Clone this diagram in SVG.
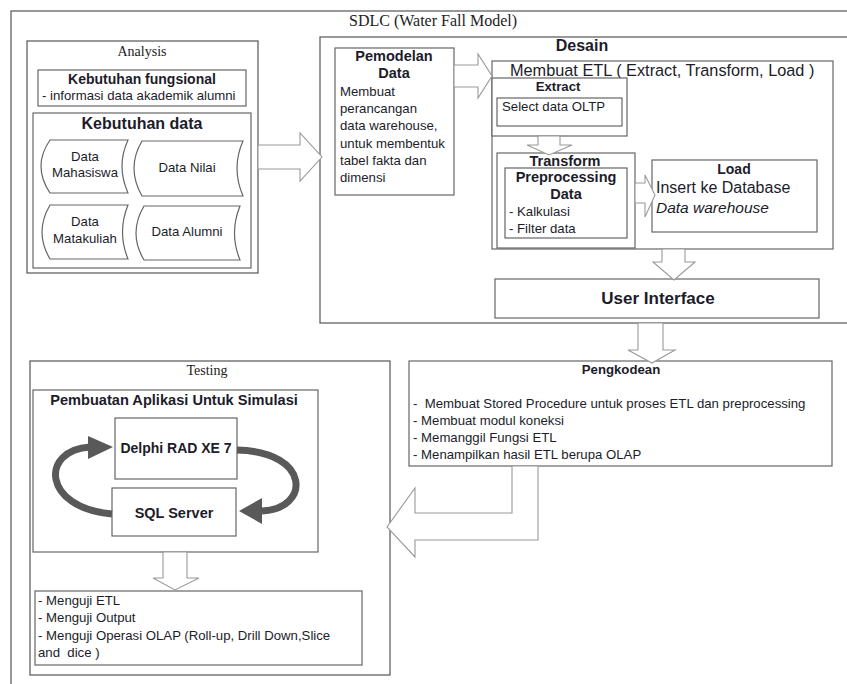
<svg xmlns="http://www.w3.org/2000/svg" width="847" height="684" viewBox="0 0 847 684">
  <style>
    .frame { fill: none; stroke: #555; stroke-width: 1.2; }
    .box { fill: #fff; stroke: #666; stroke-width: 1.2; }
    .blk { fill: #fff; stroke: #9a9a9a; stroke-width: 1.1; stroke-linejoin: miter; }
    .loop { fill: none; stroke: #595959; stroke-width: 7; }
    .head { fill: #595959; }
    .serif { font-family: "Liberation Serif", "Times New Roman", serif; fill: #222; }
    .sans { font-family: "Liberation Sans", Arial, sans-serif; fill: #1c1c2a; }
    .b { font-weight: bold; }
    .mid { text-anchor: middle; }
    .t { font-size: 13.2px; }
  </style>

  <rect width="847" height="684" fill="#fff"/>

  <!-- outer SDLC frame (runs past the right and bottom edges) -->
  <g id="sdlc">
    <rect class="frame" x="11" y="11" width="860" height="700"/>
    <text class="serif mid" x="433" y="26" font-size="16">SDLC (Water Fall Model)</text>
  </g>

  <!-- Analysis phase -->
  <g id="analysis">
    <rect class="frame" x="27" y="41" width="231" height="232"/>
    <text class="serif mid" x="142" y="56" font-size="14">Analysis</text>
  </g>
  <g id="kebutuhan-fungsional">
    <rect class="box" x="38" y="70" width="208" height="36"/>
    <text class="sans b mid" x="142" y="84" font-size="14">Kebutuhan fungsional</text>
    <text class="sans t" x="42" y="100">- informasi data akademik alumni</text>
  </g>
  <g id="kebutuhan-data">
    <rect class="box" x="33" y="113" width="218" height="155"/>
    <text class="sans b mid" x="142" y="129" font-size="16">Kebutuhan data</text>
  </g>
  <g id="data-mahasiswa">
    <path class="box" d="M50,140 L128,140 Q116,166 128,193 L50,193 Q32,166 50,140 Z"/>
    <text class="sans t mid" x="85" y="161">Data</text>
    <text class="sans t mid" x="85" y="177">Mahasiswa</text>
  </g>
  <g id="data-nilai">
    <path class="box" d="M142,141 L243,141 Q231,168 243,196 L142,196 Q126,168 142,141 Z"/>
    <text class="sans t mid" x="187" y="172">Data Nilai</text>
  </g>
  <g id="data-matakuliah">
    <path class="box" d="M50,205 L128,205 Q117,232 128,259 L50,259 Q34,232 50,205 Z"/>
    <text class="sans t mid" x="85" y="226">Data</text>
    <text class="sans t mid" x="85" y="243">Matakuliah</text>
  </g>
  <g id="data-alumni">
    <path class="box" d="M144,206 L240,206 Q229,233 240,260 L144,260 Q128,233 144,206 Z"/>
    <text class="sans t mid" x="187" y="236">Data Alumni</text>
  </g>

  <!-- Desain phase -->
  <g id="desain">
    <rect class="frame" x="320" y="37" width="560" height="286"/>
    <text class="sans b mid" x="582" y="51" font-size="16">Desain</text>
  </g>
  <g id="pemodelan-data">
    <rect class="box" x="335" y="48" width="119" height="147"/>
    <text class="sans b mid" x="394" y="61" font-size="14.5">Pemodelan</text>
    <text class="sans b mid" x="394" y="78" font-size="14.5">Data</text>
    <text class="sans t" x="340" y="96">Membuat</text>
    <text class="sans t" x="340" y="113">perancangan</text>
    <text class="sans t" x="340" y="130">data warehouse,</text>
    <text class="sans t" x="340" y="148">untuk membentuk</text>
    <text class="sans t" x="340" y="165">tabel fakta dan</text>
    <text class="sans t" x="340" y="182">dimensi</text>
  </g>
  <g id="membuat-etl">
    <rect class="box" x="492" y="61" width="341" height="188"/>
    <text class="sans" x="510" y="76" font-size="16.3">Membuat ETL ( Extract, Transform, Load )</text>
  </g>
  <g id="extract">
    <rect class="box" x="492" y="78" width="135" height="58"/>
    <text class="sans b mid" x="558" y="91" font-size="13.2">Extract</text>
    <rect class="box" x="497" y="98" width="125" height="28"/>
    <text class="sans t" x="502" y="111">Select data OLTP</text>
  </g>
  <g id="transform">
    <rect class="box" x="497" y="153" width="138" height="95"/>
    <text class="sans b mid" x="565" y="166" font-size="14.5">Transform</text>
  </g>
  <g id="preprocessing">
    <rect class="box" x="505" y="168" width="122" height="70"/>
    <text class="sans b mid" x="566" y="182" font-size="14.5">Preprocessing</text>
    <text class="sans b mid" x="566" y="199" font-size="14.5">Data</text>
    <text class="sans t" x="509" y="216">- Kalkulasi</text>
    <text class="sans t" x="509" y="233">- Filter data</text>
  </g>
  <g id="load">
    <rect class="box" x="652" y="160" width="165" height="72"/>
    <text class="sans b mid" x="734" y="174" font-size="14">Load</text>
    <text class="sans" x="656" y="193" font-size="16">Insert ke Database</text>
    <text class="sans" x="656" y="213" font-size="15.5" font-style="italic">Data warehouse</text>
  </g>
  <g id="user-interface">
    <rect class="box" x="495" y="279" width="324" height="39"/>
    <text class="sans b mid" x="658" y="304" font-size="17">User Interface</text>
  </g>

  <!-- Pengkodean phase -->
  <g id="pengkodean">
    <rect class="box" x="409" y="361" width="423" height="105"/>
    <text class="sans b mid" x="621" y="374" font-size="13.2">Pengkodean</text>
    <text class="sans t" x="413" y="408" xml:space="preserve">-  Membuat Stored Procedure untuk proses ETL dan preprocessing</text>
    <text class="sans t" x="413" y="425">- Membuat modul koneksi</text>
    <text class="sans t" x="413" y="442">- Memanggil Fungsi ETL</text>
    <text class="sans t" x="413" y="459">- Menampilkan hasil ETL berupa OLAP</text>
  </g>

  <!-- Testing phase -->
  <g id="testing">
    <rect class="frame" x="30" y="361" width="360" height="314"/>
    <text class="serif mid" x="207" y="375" font-size="14">Testing</text>
  </g>
  <g id="pembuatan-aplikasi">
    <rect class="box" x="33" y="390" width="285" height="162"/>
    <text class="sans b mid" x="174" y="405" font-size="14.6">Pembuatan Aplikasi Untuk Simulasi</text>
  </g>
  <g id="delphi">
    <rect class="box" x="115" y="418" width="122" height="61"/>
    <text class="sans b mid" x="176" y="453" font-size="14">Delphi RAD XE 7</text>
  </g>
  <g id="sql-server">
    <rect class="box" x="112" y="488" width="124" height="48"/>
    <text class="sans b mid" x="174" y="518" font-size="14.5">SQL Server</text>
  </g>
  <g id="uji">
    <rect class="box" x="35" y="591" width="327" height="74"/>
    <text class="sans t" x="38" y="605">- Menguji ETL</text>
    <text class="sans t" x="38" y="622">- Menguji Output</text>
    <text class="sans t" x="38" y="640">- Menguji Operasi OLAP (Roll-up, Drill Down,Slice</text>
    <text class="sans t" x="38" y="657" xml:space="preserve">and  dice )</text>
  </g>

  <!-- block arrows and loop arrows -->
  <g id="connectors">
    <polygon class="blk" points="258,145 300,145 300,133 322,157 300,181 300,169 258,169"/>
    <polygon class="blk" points="454,65 478,65 478,54 492,76 478,98 478,87 454,87"/>
    <polygon class="blk" points="538,136 560,136 560,145 572,145 549,155 527,145 538,145"/>
    <polygon class="blk" points="635,183 645,183 645,175 655,195 645,217 645,203 635,203"/>
    <polygon class="blk" points="662,249 685,249 685,262 695,262 674,280 653,262 662,262"/>
    <polygon class="blk" points="638,323 663,323 663,350 675,350 652,363 628,350 638,350"/>
    <polygon class="blk" points="512,466 538,466 538,540 415,540 415,557 387,527 415,488 415,513 512,513"/>
    <polygon class="blk" points="163,552 187,552 187,578 199,578 175,590 153,578 163,578"/>

    <path class="loop" d="M112,514 C42,508 40,450 90,447"/>
    <polygon class="head" points="88,436 113,447 88,459"/>
    <path class="loop" d="M237,450 C312,452 310,509 262,511"/>
    <polygon class="head" points="262,498 239,511 262,524"/>
  </g>
</svg>
